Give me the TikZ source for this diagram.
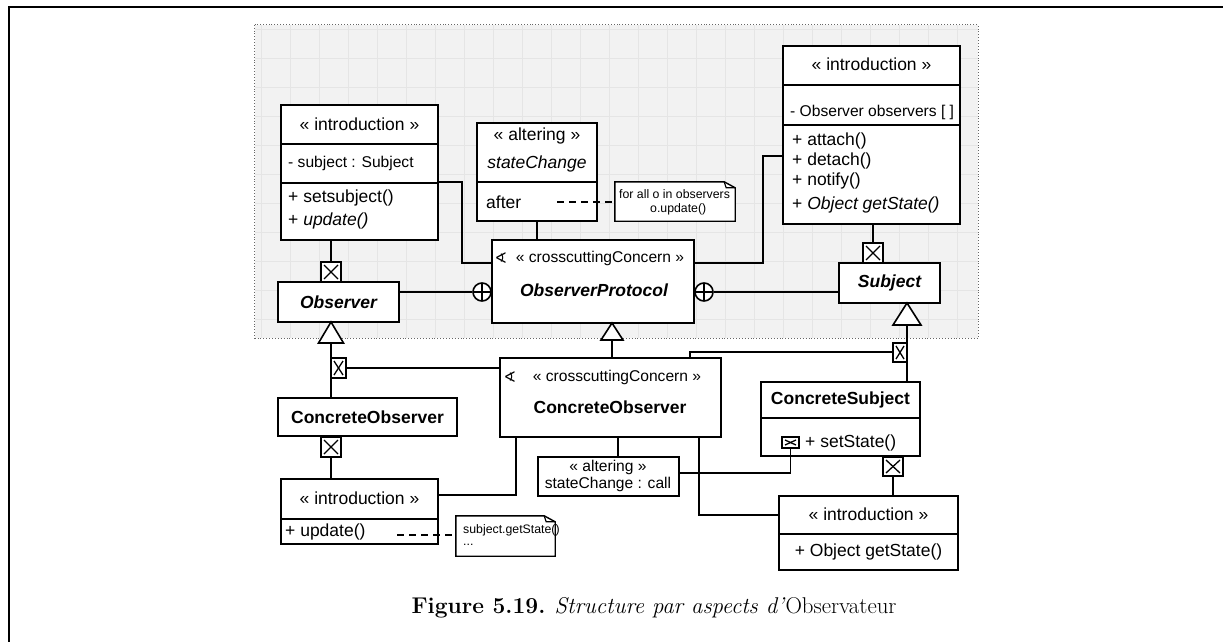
\documentclass[tikz,border=0pt]{standalone}
\usepackage{fontspec}
\newfontfamily\sansf{Liberation Sans}
\newfontfamily\symf{DejaVu Sans}
\usetikzlibrary{fit}
\begin{document}
\begin{tikzpicture}[x=1pt,y=-1pt,
  box/.style={draw, line width=1.8pt, fill=white, inner sep=0pt},
  conn/.style={line width=1.6pt},
  dashline/.style={line width=1.6pt, dash pattern=on 7pt off 5pt},
  tri/.style={draw, line width=1.6pt, fill=white, line join=miter},
  plus/.style={draw, line width=1.6pt, fill=white, circle, inner sep=0pt, minimum size=18pt,
    path picture={\draw[line width=1.4pt] (path picture bounding box.north) -- (path picture bounding box.south);
                  \draw[line width=1.4pt] (path picture bounding box.west) -- (path picture bounding box.east);}},
  xbox/.style={draw, line width=1.6pt, fill=white, inner sep=0pt,
    path picture={\draw[line width=1.3pt] ([shift={(3pt,-3pt)}]path picture bounding box.north west) -- ([shift={(-3pt,3pt)}]path picture bounding box.south east);
                  \draw[line width=1.3pt] ([shift={(-3pt,-3pt)}]path picture bounding box.north east) -- ([shift={(3pt,3pt)}]path picture bounding box.south west);}},
  notebox/.style={draw, line width=1.4pt, fill=white, line join=miter},
  ghost/.style={inner sep=0pt},
  big/.style={font=\sansf\fontsize{17.5}{20}\selectfont, inner sep=0pt},
  mid/.style={font=\sansf\fontsize{15.6}{18}\selectfont, inner sep=0pt},
  tiny/.style={font=\sansf\fontsize{12.3}{14}\selectfont, inner sep=0pt},
  bname/.style={font=\sansf\bfseries\fontsize{17.5}{20}\selectfont, inner sep=0pt},
  biname/.style={font=\sansf\bfseries\itshape\fontsize{17.5}{20}\selectfont, inner sep=0pt},
  angsym/.style={font=\symf\fontsize{15}{18}\selectfont, inner sep=0pt}
]
\useasboundingbox (0,0) rectangle (1223,642);
\fill[white] (0,0) rectangle (1223,642);
\draw[line width=2pt] (9,642) -- (9,7) -- (1223,7);

% shaded aspect area
\node[ghost, fit={(255,25) (978,338)}, fill=black!5] (area) {};
\begin{scope}
  \clip (255,25) rectangle (978,338);
  \draw[black!10, line width=0.5pt, step=29pt] (255,25) grid (978,338);
\end{scope}
\draw[black!60, dotted, line width=0.9pt] (area.north west) rectangle (area.south east);

% ---------- boxes ----------
\node[box, fit={(281,105) (438,144)}] (ioH) {};
\node[box, fit={(281,144) (438,183)}] (ioA) {};
\node[box, fit={(281,183) (438,240)}] (ioO) {};
\node[box, fit={(278,282) (399,322)}] (obs) {};
\node[box, fit={(477,123) (597,182)}] (altH) {};
\node[box, fit={(477,182) (597,221)}] (altB) {};
\node[box, fit={(492,240) (694,323)}] (op) {};
\node[box, fit={(783,46) (960,85)}] (isH) {};
\node[box, fit={(783,85) (960,125)}] (isA) {};
\node[box, fit={(783,125) (960,224)}] (isO) {};
\node[box, fit={(839,263) (940,303)}] (subj) {};
\node[box, fit={(278,398) (457,436)}] (co) {};
\node[box, fit={(500,358) (721,437)}] (coa) {};
\node[box, fit={(761,382) (920,418)}] (csH) {};
\node[box, fit={(761,418) (920,456)}] (csO) {};
\node[box, fit={(281,479) (438,519)}] (ibH) {};
\node[box, fit={(281,519) (438,544)}] (ibO) {};
\node[box, fit={(538,457) (679,496)}] (alt2) {};
\node[box, fit={(779,496) (958,534)}] (irH) {};
\node[box, fit={(779,534) (958,570)}] (irO) {};

% notes
\node[ghost, fit={(615,182) (735,221)}] (n1) {};
\draw[notebox] (n1.north west) -- ([xshift=-11pt]n1.north east) -- ([yshift=-6pt]n1.north east) -- (n1.south east) -- (n1.south west) -- cycle;
\draw[line width=1.2pt] ([xshift=-11pt]n1.north east) -- ([xshift=-9pt,yshift=-6pt]n1.north east) -- ([yshift=-6pt]n1.north east);
\node[ghost, fit={(456,516) (555,556)}] (n2) {};
\draw[notebox] (n2.north west) -- ([xshift=-11pt]n2.north east) -- ([yshift=-6pt]n2.north east) -- (n2.south east) -- (n2.south west) -- cycle;
\draw[line width=1.2pt] ([xshift=-11pt]n2.north east) -- ([xshift=-9pt,yshift=-6pt]n2.north east) -- ([yshift=-6pt]n2.north east);

% X marks and circle-plus
\node[xbox, fit={(321,262) (341,282)}] (xo1) {};
\node[xbox, fit={(863,243) (883,263)}] (xs1) {};
\node[xbox, fit={(331,358) (346,378)}] (xo2) {};
\node[xbox, fit={(893,343) (907,362)}] (xs2) {};
\node[xbox, fit={(321,437) (341,457)}] (xo3) {};
\node[xbox, fit={(883,457) (903,476)}] (xs3) {};
\node[xbox, fit={(782,437) (799,448)}] (xsm) {};
\node[plus] (c1) at (482,292) {};
\node[plus] (c2) at (704,292) {};

% triangle tips
\coordinate (t1) at (331,343);
\coordinate (t2) at (612,340);
\coordinate (t3) at (907,325);

% ---------- connectors ----------
\draw[conn] (ioO.north east) -| (462,263) -- (op.west |- 0,263);
\draw[conn] (isO.west |- 0,156) -| (763,263) -- (op.east |- 0,263);
\draw[conn] (ioO.south -| xo1.north) -- (xo1.north);
\draw[conn] (obs.east |- c1.west) -- (c1.west);
\draw[conn] (c2.east) -- (subj.west |- c2.east);
\draw[conn] (altB.south -| 537,0) -- (op.north -| 537,0);
\draw[dashline] (557,202) -- (n1.west |- 0,202);
\draw[conn] (isO.south -| xs1.north) -- (xs1.north);
\draw[conn] (t1) -- (co.north -| t1);
\draw[conn] (xo2.east) -- (coa.west |- xo2.east);
\draw[conn] (t2) -- (coa.north -| t2);
\draw[conn] (t3) -- (csH.north -| t3);
\draw[conn] (coa.north -| 690,0) -- (690,352) -- (xs2.west |- 0,352);
\draw[conn] (xo3.south) -- (ibH.north -| xo3.south);
\draw[conn] (co.south -| xo3.north) -- (xo3.north);
\draw[conn] (ibH.east |- 0,495) -| (coa.south -| 516,0);
\draw[conn] (alt2.north -| 618,0) -- (coa.south -| 618,0);
\draw[conn] (coa.south -| 699,0) |- (irH.west |- 0,515);
\draw[conn] (alt2.east |- 0,473) -| (xsm.south);
\draw[conn] (xs3.south) -- (irH.north -| xs3.south);
\draw[conn] (csO.south -| xs3.north) -- (xs3.north);
\draw[dashline] (397,535) -- (n2.west |- 0,535);

\draw[tri] (331,322) -- (343.5,343) -- (318.5,343) -- cycle;
\draw[tri] (612,323) -- (623,340) -- (601,340) -- cycle;
\draw[tri] (907,303) -- (921,325) -- (893,325) -- cycle;

% ---------- texts ----------
\node[big] (tioH) at (359.5,124) {« introduction »};
\node[mid, anchor=west] (tioA) at (288,163) {- subject : Subject};
\node[big, anchor=west] (tioO1) at (288,198) {+ setsubject()};
\node[big, anchor=west] (tioO2) at (288,221) {+ \textit{update()}};
\node[biname] (tobs) at (338.5,302) {Observer};

\node[big] (taltH1) at (537,136) {« altering »};
\node[big] (taltH2) at (537,164) {\textit{stateChange}};
\node[big, anchor=west] (taltB) at (486,202) {after};
\node[tiny, anchor=west] (tn1a) at (619,194) {for all o in observers};
\node[tiny, anchor=west] (tn1b) at (650,209) {o.update()};

\node[angsym] (sym1) at (501,258) {∢};
\node[mid] (top1) at (600,258) {« crosscuttingConcern »};
\node[biname] (top2) at (594,290) {ObserverProtocol};

\node[big] (tisH) at (871.5,64) {« introduction »};
\node[mid, anchor=west] (tisA) at (790,112) {- Observer observers [ ]};
\node[big, anchor=west] (tisO1) at (792,141) {+ attach()};
\node[big, anchor=west] (tisO2) at (792,161) {+ detach()};
\node[big, anchor=west] (tisO3) at (792,181) {+ notify()};
\node[big, anchor=west] (tisO4) at (792,205) {+ \textit{Object getState()}};
\node[biname] (tsubj) at (889.5,283) {Subject};

\node[bname] (tco) at (367.5,417) {ConcreteObserver};
\node[angsym] (sym2) at (510,377) {∢};
\node[mid] (tcoa1) at (617,377) {« crosscuttingConcern »};
\node[bname] (tcoa2) at (610,407) {ConcreteObserver};
\node[bname] (tcs) at (840.5,400) {ConcreteSubject};
\node[big, anchor=west] (tcsO) at (805,443) {+ setState()};

\node[big] (tibH) at (359.5,498) {« introduction »};
\node[big, anchor=west] (tibO) at (285,532) {+ update()};
\node[tiny, anchor=west] (tn2a) at (463,530) {subject.getState()};
\node[tiny, anchor=west] (tn2b) at (463,545) {...};

\node[mid] (talt2a) at (608,467) {« altering »};
\node[mid] (talt2b) at (608,484) {stateChange : call};
\node[big] (tirH) at (868.5,514) {« introduction »};
\node[big] (tirO) at (868.5,552) {+ Object getState()};

\node[inner sep=0pt, font=\fontsize{22.8}{26}\selectfont] (cap) at (654,608) {\textbf{Figure 5.19.} \textit{Structure par aspects d'}Observateur};
\end{tikzpicture}
\end{document}
